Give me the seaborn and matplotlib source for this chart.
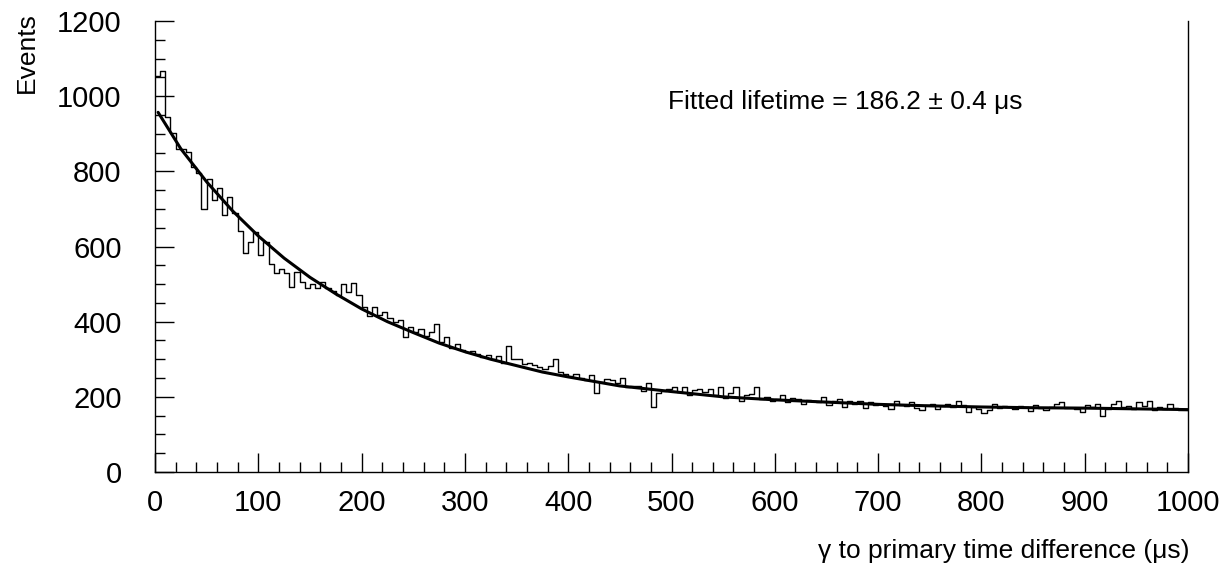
import numpy as np
import pandas as pd
import matplotlib
matplotlib.use("Agg")
import matplotlib.pyplot as plt
import seaborn as sns
from matplotlib.ticker import MultipleLocator

bin_width = 5
counts = [
 1053,1066,944,901,859,859,851,811,795,700,
 779,723,755,683,731,690,641,583,611,638,
 577,611,553,530,541,530,493,533,505,490,
 500,490,505,490,482,470,500,480,503,470,
 440,415,440,418,425,410,400,405,360,385,
 372,380,362,372,394,345,360,330,340,325,
 320,322,315,305,312,300,308,290,335,300,
 300,288,290,284,280,275,282,300,265,262,
 255,262,250,245,258,210,240,248,245,236,
 250,225,228,230,215,238,173,210,215,220,
 226,212,225,205,218,222,212,220,205,225,
 198,210,225,190,205,208,225,195,200,190,
 195,205,185,198,195,180,192,190,185,200,
 178,190,195,172,188,180,190,170,185,178,
 182,175,168,190,178,176,185,170,165,178,
 182,168,175,180,172,190,178,160,172,168,
 158,165,180,170,175,172,168,176,174,162,
 178,170,165,172,180,185,170,170,168,160,
 178,172,182,150,168,180,188,172,175,168,
 185,175,188,165,172,168,180,170,164,166,
]
fit_t = [3,25,50,75,100,125,150,175,200,225,250,275,300,325,350,375,400,450,500,550,600,650,700,750,800,850,900,950,1000]
fit_y = [957,860,772,695,628,569,518,474,434,400,371,343,320,300,283,266,253,229,214,200,192,186,180,176,173,171,170,168,166]

sns.set_style("white")
plt.rcParams['font.family'] = ['Liberation Sans', 'DejaVu Sans']
plt.rcParams['text.color'] = 'black'
plt.rcParams['xtick.color'] = 'black'
plt.rcParams['ytick.color'] = 'black'

n = len(counts)
centers = np.arange(n) * bin_width + bin_width / 2
df = pd.DataFrame({"t": centers, "n": counts})

fig = plt.figure(figsize=(12.28, 5.75), dpi=100)
ax = fig.add_axes([155/1228, 1-472/575, (1188-155)/1228, (472-21)/575])
sns.histplot(data=df, x="t", weights="n", binwidth=bin_width, binrange=(0, n * bin_width),
             element="step", fill=False, color="black", linewidth=1.0, ax=ax)
sns.lineplot(x=fit_t, y=fit_y, color="black", linewidth=2.2, ax=ax)

ax.set_xlim(0, 1000)
ax.set_ylim(0, 1200)
ax.set_xlabel("")
ax.set_ylabel("")
ax.spines["top"].set_visible(False)
for s in ["left", "bottom", "right"]:
    ax.spines[s].set_color("black")
    ax.spines[s].set_linewidth(1.0)
ax.xaxis.set_major_locator(MultipleLocator(100))
ax.xaxis.set_minor_locator(MultipleLocator(20))
ax.yaxis.set_major_locator(MultipleLocator(200))
ax.yaxis.set_minor_locator(MultipleLocator(50))
ax.tick_params(axis="both", which="major", direction="in", length=14, width=1, labelsize=21, color="black", labelcolor="black")
ax.tick_params(axis="x", which="major", pad=12)
ax.tick_params(axis="y", which="major", pad=24)
ax.tick_params(axis="both", which="minor", direction="in", length=7, width=1, color="black")
ax.tick_params(axis="x", which="both", top=False, bottom=True)
ax.tick_params(axis="y", which="both", left=True, right=False)

fig.text(668/1228, 1-102/575, "Fitted lifetime = 186.2 ± 0.4 μs", fontsize=19, va="center", ha="left")
fig.text(27/1228, 1-12/575, "Events", fontsize=19, rotation=90, va="top", ha="center")
fig.text(1190/1228, 1-551/575, "γ to primary time difference (μs)", fontsize=19, va="center", ha="right")

fig.savefig("out.png", dpi=100)
